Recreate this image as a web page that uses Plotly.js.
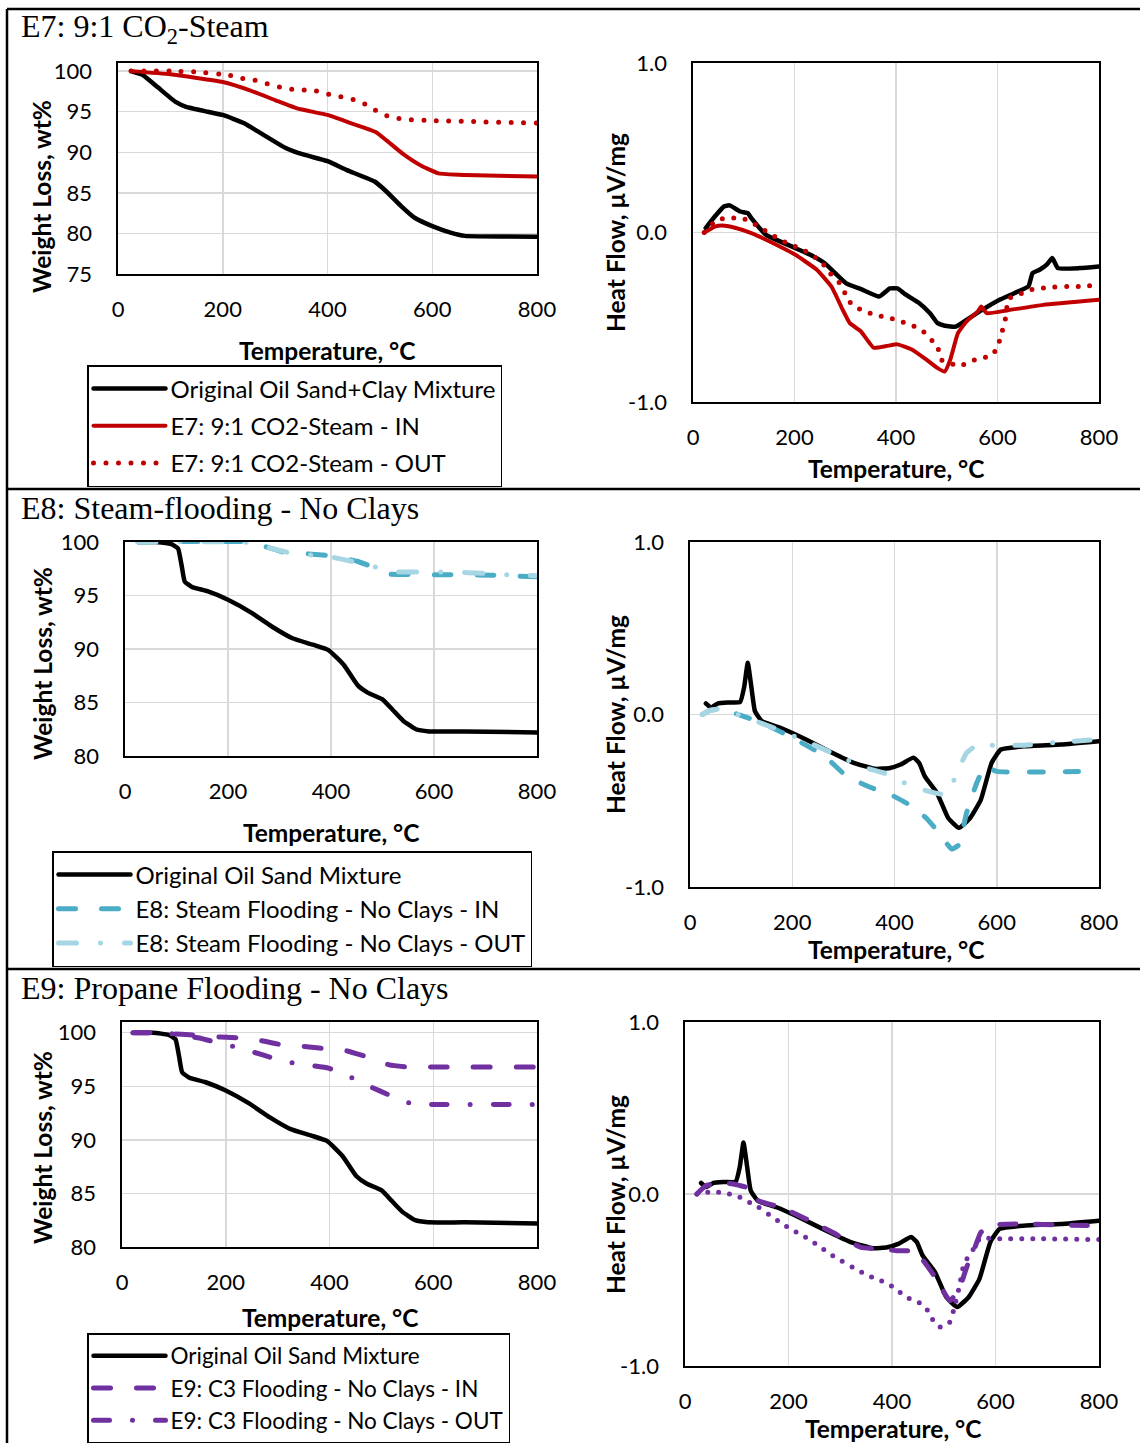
<!DOCTYPE html>
<html>
<head>
<meta charset="utf-8">
<script src="https://cdn.plot.ly/plotly-3.0.1.min.js"></script>
<style>
  html, body { margin: 0; padding: 0; background: #ffffff; }
  #chart { width: 1140px; height: 1443px; }
  /* rounded ends so zero-length dashes render as round dots */
  .js-line { stroke-linecap: round; stroke-linejoin: round; }
</style>
</head>
<body>
<div id="chart"></div>
<script>
// ---------- axis ticks ----------
const tempTicks = [0, 200, 400, 600, 800];
const tgaTicksE7 = [75, 80, 85, 90, 95, 100];
const tgaTicksNoClay = [80, 85, 90, 95, 100];
const dscTicks = [-1, 0, 1];
const dscTickText = ['-1.0', '0.0', '1.0'];

// ---------- E7: 9:1 CO2-Steam ----------
// TGA, original oil sand + clay mixture
const e7OrigT = [25, 48, 76, 110, 130, 171, 200, 240, 274, 321, 355, 400, 437, 490, 512, 540, 567, 600, 635, 662, 800];
const e7OrigW = [100, 99.5, 98.0, 96.2, 95.6, 95.0, 94.6, 93.6, 92.3, 90.5, 89.7, 88.9, 87.8, 86.4, 85.2, 83.4, 81.9, 80.9, 80.1, 79.7, 79.6];
// TGA, inlet sample
const e7InT = [25, 100, 200, 253, 301, 342, 400, 444, 492, 512, 546, 580, 612, 662, 800];
const e7InW = [100, 99.6, 98.65, 97.6, 96.4, 95.4, 94.6, 93.6, 92.5, 91.5, 89.7, 88.3, 87.4, 87.2, 87.0];
// TGA, outlet sample
const e7OutT = [25, 100, 150, 212, 237, 260, 282, 304, 327, 350, 376, 398, 422, 444, 467, 488, 509, 531, 560, 600, 800];
const e7OutW = [100, 100, 99.9, 99.5, 99.1, 98.9, 98.5, 98.1, 97.8, 97.7, 97.6, 97.2, 96.9, 96.6, 96.1, 95.3, 94.6, 94.2, 94.0, 93.9, 93.6];
// DSC heat flow
const e7OrigHfT = [25, 43, 61, 72, 93, 108, 115, 144, 187, 230, 259, 302, 331, 367, 388, 403, 417, 446, 467, 482, 496, 518, 539, 568, 604, 633, 661, 669, 683, 697, 708, 719, 762, 800];
const e7OrigHf = [0.026, 0.094, 0.153, 0.16, 0.124, 0.114, 0.085, -0.014, -0.073, -0.13, -0.18, -0.30, -0.334, -0.378, -0.33, -0.33, -0.362, -0.417, -0.476, -0.535, -0.55, -0.555, -0.515, -0.46, -0.397, -0.358, -0.318, -0.24, -0.22, -0.19, -0.151, -0.21, -0.21, -0.2];
const e7InHfT = [22, 43, 58, 79, 115, 158, 201, 244, 273, 295, 309, 331, 356, 381, 403, 431, 460, 482, 496, 507, 522, 539, 561, 568, 579, 618, 690, 800];
const e7InHf = [0, 0.035, 0.041, 0.031, -0.004, -0.063, -0.13, -0.22, -0.32, -0.456, -0.535, -0.584, -0.68, -0.67, -0.66, -0.69, -0.75, -0.8, -0.82, -0.75, -0.594, -0.525, -0.466, -0.437, -0.476, -0.46, -0.427, -0.397];
const e7OutHfT = [22, 40, 61, 83, 108, 129, 151, 172, 194, 216, 237, 252, 270, 288, 300, 313, 335, 358, 381, 406, 428, 449, 482, 489, 525, 547, 565, 586, 600, 607, 614, 622, 640, 665, 690, 712, 737, 762, 787, 800];
const e7OutHf = [0, 0.055, 0.085, 0.085, 0.075, 0.035, -0.004, -0.043, -0.073, -0.10, -0.14, -0.17, -0.24, -0.295, -0.36, -0.427, -0.46, -0.486, -0.50, -0.52, -0.545, -0.57, -0.676, -0.75, -0.787, -0.76, -0.74, -0.73, -0.68, -0.60, -0.54, -0.39, -0.368, -0.338, -0.328, -0.322, -0.318, -0.318, -0.313, -0.313];

// ---------- original oil sand mixture (no clays), shared by E8 and E9 ----------
const sandT = [25, 60, 90, 103, 110, 116, 130, 160, 200, 245, 285, 325, 365, 395, 425, 452, 472, 500, 520, 540, 565, 590, 660, 800];
const sandW = [100, 100, 99.8, 99.4, 97.8, 96.3, 95.8, 95.4, 94.6, 93.4, 92.1, 91.0, 90.4, 89.9, 88.5, 86.6, 85.9, 85.3, 84.3, 83.3, 82.5, 82.3, 82.3, 82.2];
const sandHfT = [31, 41, 55, 75, 98, 106, 113, 120, 127, 141, 177, 227, 277, 320, 363, 391, 412, 437, 448, 459, 483, 505, 526, 548, 569, 590, 608, 655, 726, 800];
const sandHf = [0.064, 0.04, 0.065, 0.07, 0.072, 0.16, 0.30, 0.16, 0.02, -0.04, -0.077, -0.145, -0.22, -0.28, -0.315, -0.31, -0.29, -0.25, -0.28, -0.357, -0.454, -0.6, -0.657, -0.6, -0.493, -0.28, -0.203, -0.184, -0.174, -0.155];

// ---------- E8: Steam-flooding - No Clays ----------
const e8InT = [25, 240, 277, 312, 353, 400, 451, 479, 513, 555, 624, 715, 800];
const e8InW = [100, 100, 99.5, 99.0, 98.9, 98.7, 98.2, 97.7, 97.0, 96.95, 96.95, 96.9, 96.75];
const e8OutT = [25, 240, 284, 319, 367, 400, 440, 492, 527, 576, 621, 708, 753, 800];
const e8OutW = [100, 99.95, 99.4, 99.0, 98.75, 98.6, 98.2, 97.6, 97.2, 97.2, 97.2, 97.05, 96.9, 96.85];
const e8InHfT = [24, 40, 63, 98, 141, 213, 263, 306, 355, 398, 427, 462, 484, 512, 526, 541, 561, 577, 600, 760];
const e8InHf = [0, 0.025, 0.033, -0.004, -0.048, -0.155, -0.24, -0.357, -0.425, -0.473, -0.52, -0.6, -0.676, -0.78, -0.755, -0.57, -0.396, -0.30, -0.33, -0.33];
const e8OutHfT = [24, 40, 63, 98, 163, 227, 298, 345, 391, 419, 465, 502, 522, 541, 569, 590, 655, 726, 800];
const e8OutHf = [0, 0.025, 0.033, -0.004, -0.077, -0.155, -0.25, -0.31, -0.35, -0.396, -0.444, -0.464, -0.34, -0.222, -0.164, -0.178, -0.178, -0.16, -0.145];

// ---------- E9: Propane Flooding - No Clays ----------
const e9InT = [21, 66, 100, 130, 190, 232, 270, 310, 356, 395, 434, 475, 515, 550, 600, 800];
const e9InW = [100, 100, 99.9, 99.8, 99.6, 99.5, 99.25, 98.85, 98.7, 98.5, 98.3, 97.7, 97.0, 96.8, 96.8, 96.8];
const e9OutT = [21, 66, 107, 149, 190, 232, 273, 315, 356, 398, 439, 477, 519, 557, 600, 800];
const e9OutW = [100, 100, 99.85, 99.5, 99.0, 98.5, 97.9, 97.3, 97.0, 96.7, 95.9, 95.0, 94.1, 93.4, 93.3, 93.3];
const e9InHfT = [23, 40, 72, 93, 128, 142, 185, 234, 283, 340, 382, 410, 431, 452, 481, 512, 530, 545, 558, 572, 597, 657, 727, 800];
const e9InHf = [0, 0.048, 0.064, 0.058, 0.029, -0.039, -0.077, -0.145, -0.22, -0.31, -0.32, -0.33, -0.33, -0.357, -0.473, -0.62, -0.55, -0.42, -0.33, -0.222, -0.18, -0.174, -0.18, -0.184];
const e9OutHfT = [23, 54, 79, 100, 121, 142, 163, 181, 202, 224, 245, 262, 283, 303, 326, 347, 368, 390, 410, 426, 445, 465, 476, 492, 510, 519, 530, 539, 551, 562, 569, 583, 608, 691, 800];
const e9OutHf = [0, 0.014, 0.004, -0.01, -0.043, -0.077, -0.122, -0.158, -0.2, -0.236, -0.274, -0.31, -0.354, -0.39, -0.43, -0.464, -0.493, -0.518, -0.557, -0.6, -0.619, -0.657, -0.72, -0.773, -0.755, -0.676, -0.54, -0.406, -0.348, -0.3, -0.26, -0.257, -0.26, -0.26, -0.265];

// ---------- page geometry helpers ----------
const W = 1140, H = 1443;
const fx = px => px / W;
const fy = px => 1 - px / H;

const BODY = 'Lato, "Noto Sans", sans-serif';
const SERIF = '"Liberation Serif", "DejaVu Serif", serif';

const black = '#000000';
const red = '#C00000';
const teal = '#4BACC6';
const lightBlue = '#A6D6E4';
const purple = '#7030A0';

function line(x, y, xa, ya, name, color, width, dash, legend, group, show) {
  return {
    type: 'scatter', mode: 'lines', x: x, y: y, xaxis: xa, yaxis: ya,
    name: name, legend: legend, legendgroup: group, showlegend: !!show,
    line: { color: color, width: width, dash: dash || 'solid', shape: 'spline', smoothing: 0.4 },
    hoverinfo: 'skip'
  };
}

const traces = [
  // E7 TGA
  line(e7OrigT, e7OrigW, 'x', 'y', 'Original Oil Sand+Clay Mixture', black, 4.5, 'solid', 'legend', 'a7', true),
  line(e7InT, e7InW, 'x', 'y', 'E7: 9:1 CO2-Steam - IN', red, 4, 'solid', 'legend', 'b7', true),
  line(e7OutT, e7OutW, 'x', 'y', 'E7: 9:1 CO2-Steam - OUT', red, 5, '0px,12.5px', 'legend', 'c7', true),
  // E7 DSC
  line(e7OrigHfT, e7OrigHf, 'x2', 'y2', 'Original Oil Sand+Clay Mixture', black, 4.5, 'solid', 'legend', 'a7'),
  line(e7InHfT, e7InHf, 'x2', 'y2', 'E7: 9:1 CO2-Steam - IN', red, 4, 'solid', 'legend', 'b7'),
  line(e7OutHfT, e7OutHf, 'x2', 'y2', 'E7: 9:1 CO2-Steam - OUT', red, 5, '0px,11.5px', 'legend', 'c7'),
  // E8 TGA
  line(sandT, sandW, 'x3', 'y3', 'Original Oil Sand Mixture', black, 4.5, 'solid', 'legend2', 'a8', true),
  line(e8InT, e8InW, 'x3', 'y3', 'E8: Steam Flooding - No Clays - IN', teal, 5, '17px,26px', 'legend2', 'b8', true),
  line(e8OutT, e8OutW, 'x3', 'y3', 'E8: Steam Flooding - No Clays - OUT', lightBlue, 5, '18px,24px,0px,24px', 'legend2', 'c8', true),
  // E8 DSC
  line(sandHfT, sandHf, 'x4', 'y4', 'Original Oil Sand Mixture', black, 4.5, 'solid', 'legend2', 'a8'),
  line(e8InHfT, e8InHf, 'x4', 'y4', 'E8: Steam Flooding - No Clays - IN', teal, 5, '14px,22px', 'legend2', 'b8'),
  line(e8OutHfT, e8OutHf, 'x4', 'y4', 'E8: Steam Flooding - No Clays - OUT', lightBlue, 5, '16px,22px,0px,22px', 'legend2', 'c8'),
  // E9 TGA
  line(sandT, sandW, 'x5', 'y5', 'Original Oil Sand Mixture', black, 4.5, 'solid', 'legend3', 'a9', true),
  line(e9InT, e9InW, 'x5', 'y5', 'E9: C3 Flooding - No Clays - IN', purple, 5, '17px,26px', 'legend3', 'b9', true),
  line(e9OutT, e9OutW, 'x5', 'y5', 'E9: C3 Flooding - No Clays - OUT', purple, 5, '16px,23px,0px,23px', 'legend3', 'c9', true),
  // E9 DSC
  line(sandHfT, sandHf, 'x6', 'y6', 'Original Oil Sand Mixture', black, 4.5, 'solid', 'legend3', 'a9'),
  line(e9InHfT, e9InHf, 'x6', 'y6', 'E9: C3 Flooding - No Clays - IN', purple, 5, '16px,20px', 'legend3', 'b9'),
  line(e9OutHfT, e9OutHf, 'x6', 'y6', 'E9: C3 Flooding - No Clays - OUT', purple, 5, '0px,11px', 'legend3', 'c9')
];

const tickFont = { family: BODY, size: 22, color: '#000' };

function xAxis(left, right, anchor) {
  return {
    domain: [fx(left), fx(right)], anchor: anchor, range: [0, 800],
    tickmode: 'array', tickvals: tempTicks, ticks: '', ticklabelstandoff: 15,
    showgrid: true, gridcolor: '#D9D9D9', gridwidth: 1.5, zeroline: false,
    showline: true, mirror: true, linecolor: '#000', linewidth: 1.6,
    tickfont: tickFont, fixedrange: true
  };
}
function yAxis(top, bottom, anchor, range, vals, text) {
  const ax = {
    domain: [fy(bottom), fy(top)], anchor: anchor, range: range,
    tickmode: 'array', tickvals: vals, ticks: '', ticklabelstandoff: 20,
    showgrid: true, gridcolor: '#D9D9D9', gridwidth: 1.5, zeroline: false,
    showline: true, mirror: true, linecolor: '#000', linewidth: 1.6,
    tickfont: tickFont, fixedrange: true
  };
  if (text) ax.ticktext = text;
  return ax;
}

// legends are placed against the page (container) so they never push the margins;
// each one is pinned by its lower edge just above the panel divider / page bottom
function legendBox(left, bottom, gap, size) {
  return {
    xref: 'container', yref: 'container',
    x: fx(left), y: fy(bottom), xanchor: 'left', yanchor: 'bottom',
    bgcolor: '#fff', bordercolor: '#000', borderwidth: 1.5,
    font: { family: BODY, size: size, color: '#000' },
    itemwidth: 72, tracegroupgap: gap, traceorder: 'grouped'
  };
}

const annotations = [];
function note(text, xpx, ypx, opts) {
  annotations.push(Object.assign({
    text: text, xref: 'paper', yref: 'paper', x: fx(xpx), y: fy(ypx),
    showarrow: false, xanchor: 'center', yanchor: 'middle',
    font: { family: BODY, size: 24.5, color: '#000', weight: 'bold' }
  }, opts || {}));
}
// panel headings
const headFont = { family: SERIF, size: 32, color: '#000' };
note('E7: 9:1 CO<sub>2</sub>-Steam', 19, 29, { xanchor: 'left', font: headFont });
note('E8: Steam-flooding - No Clays', 19, 508, { xanchor: 'left', font: headFont });
note('E9: Propane Flooding - No Clays', 19, 988, { xanchor: 'left', font: headFont });
// axis titles
const xt = 'Temperature, °C', yt1 = 'Weight Loss, wt%', yt2 = 'Heat Flow, µV/mg';
note(xt, 327, 350); note(xt, 896, 469);
note(xt, 331, 832); note(xt, 896, 949);
note(xt, 330, 1317); note(xt, 893, 1428);
note(yt1, 42, 196, { textangle: -90 }); note(yt2, 615, 233, { textangle: -90 });
note(yt1, 42, 663, { textangle: -90 }); note(yt2, 615, 715, { textangle: -90 });
note(yt1, 42, 1147, { textangle: -90 }); note(yt2, 615, 1195, { textangle: -90 });

// outer frame and panel dividers
const frame = { color: '#000', width: 2.5 };
const shapes = [
  { type: 'line', xref: 'paper', yref: 'paper', x0: fx(7), x1: 1, y0: fy(9), y1: fy(9), line: frame },
  { type: 'line', xref: 'paper', yref: 'paper', x0: fx(7), x1: fx(7), y0: fy(9), y1: 0, line: frame },
  { type: 'line', xref: 'paper', yref: 'paper', x0: fx(7), x1: 1, y0: fy(489), y1: fy(489), line: frame },
  { type: 'line', xref: 'paper', yref: 'paper', x0: fx(7), x1: 1, y0: fy(969), y1: fy(969), line: frame }
];

const layout = {
  width: W, height: H, margin: { l: 0, r: 0, t: 0, b: 0, autoexpand: false },
  paper_bgcolor: '#fff', plot_bgcolor: '#fff',
  font: { family: BODY, color: '#000' },
  showlegend: true, hovermode: false,
  xaxis: xAxis(118, 537, 'y'),
  yaxis: yAxis(63, 274, 'x', [75, 101], tgaTicksE7),
  xaxis2: xAxis(693, 1099, 'y2'),
  yaxis2: yAxis(63, 402, 'x2', [-1, 1], dscTicks, dscTickText),
  xaxis3: xAxis(125, 537, 'y3'),
  yaxis3: yAxis(542, 756, 'x3', [80, 100], tgaTicksNoClay),
  xaxis4: xAxis(690, 1099, 'y4'),
  yaxis4: yAxis(542, 887, 'x4', [-1, 1], dscTicks, dscTickText),
  xaxis5: xAxis(122, 537, 'y5'),
  yaxis5: yAxis(1022, 1247, 'x5', [80, 101], tgaTicksNoClay),
  xaxis6: xAxis(685, 1099, 'y6'),
  yaxis6: yAxis(1022, 1366, 'x6', [-1, 1], dscTicks, dscTickText),
  legend: legendBox(87, 487, 3, 24),
  legend2: legendBox(52, 967, 0, 24),
  legend3: legendBox(87, 1443, 0, 22.5),
  annotations: annotations,
  shapes: shapes
};

Plotly.newPlot('chart', traces, layout, { staticPlot: true, displayModeBar: false });
</script>
</body>
</html>
